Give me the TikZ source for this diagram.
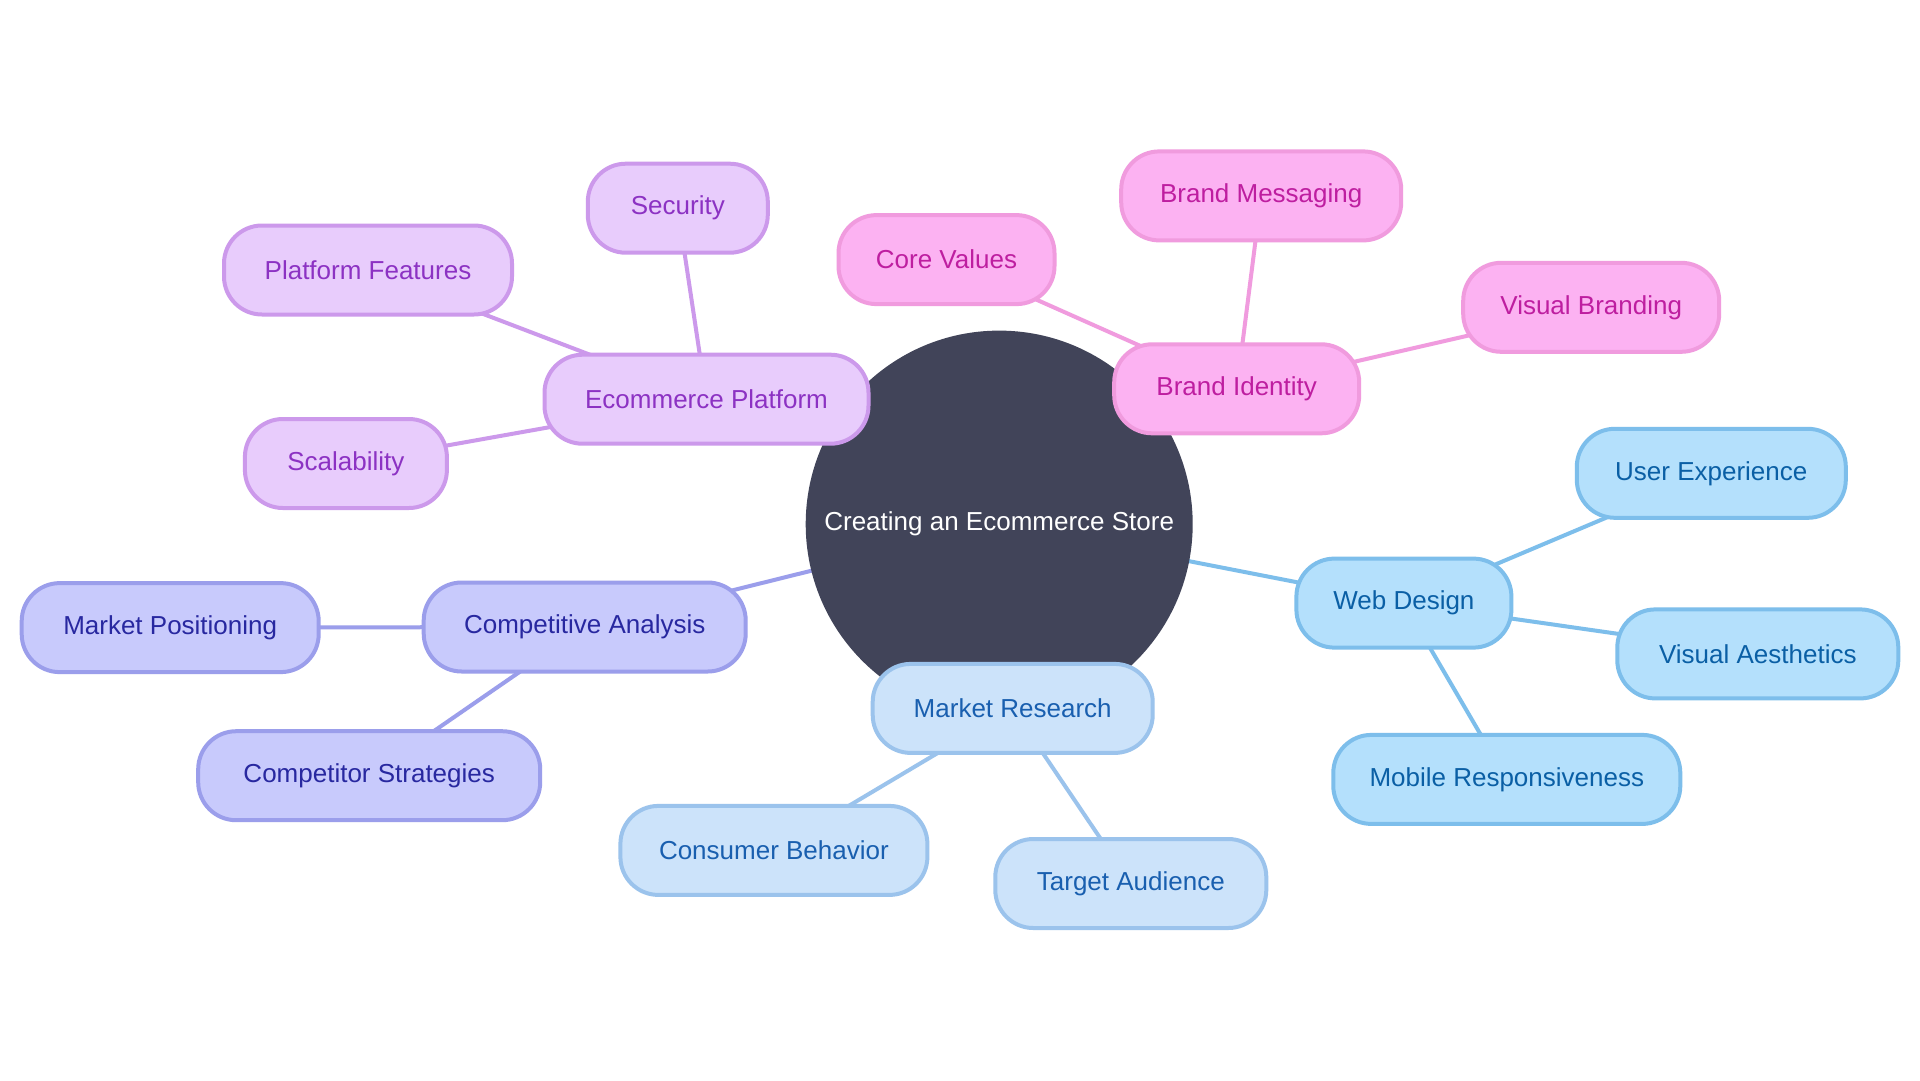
\documentclass[tikz,border=0pt]{standalone}
\usepackage{fontspec}
\setmainfont{Liberation Sans}
\usetikzlibrary{backgrounds}
\definecolor{purpfill}{HTML}{E8CCFC}
\definecolor{purpline}{HTML}{CC99EB}
\definecolor{purptext}{HTML}{8C32C3}
\definecolor{pinkfill}{HTML}{FCB2F2}
\definecolor{pinkline}{HTML}{F09BDE}
\definecolor{pinktext}{HTML}{BE1EA0}
\definecolor{bluefill}{HTML}{B4E0FC}
\definecolor{blueline}{HTML}{7DBEEB}
\definecolor{bluetext}{HTML}{0A5FA5}
\definecolor{palefill}{HTML}{CCE3FA}
\definecolor{paleline}{HTML}{9BC3EC}
\definecolor{paletext}{HTML}{195FAF}
\definecolor{perifill}{HTML}{C8CAFC}
\definecolor{periline}{HTML}{9B9EEB}
\definecolor{peritext}{HTML}{2828A0}
\definecolor{centralfill}{HTML}{414459}
\begin{document}
\begin{tikzpicture}[x=1pt,y=-1pt,
  leaf/.style={rectangle, rounded corners=38pt, minimum height=89pt, line width=4pt, inner sep=0pt, font=\fontsize{26}{31}\selectfont},
  purp/.style={leaf, fill=purpfill, draw=purpline, text=purptext},
  pinkn/.style={leaf, fill=pinkfill, draw=pinkline, text=pinktext},
  bluen/.style={leaf, fill=bluefill, draw=blueline, text=bluetext},
  palen/.style={leaf, fill=palefill, draw=paleline, text=paletext},
  perin/.style={leaf, fill=perifill, draw=periline, text=peritext},
  conn/.style={line width=4pt}
]
\useasboundingbox (0,0) rectangle (1920,1080);
\node[circle, fill=centralfill, minimum size=387pt, inner sep=0pt, text=white, font=\fontsize{26}{31}\selectfont] (c) at (999.2,524.1) {Creating an Ecommerce Store};

\node[purp, minimum width=324pt] (ep) at (706.5,399.2) {Ecommerce Platform};
\node[purp, minimum width=180pt] (sec) at (677.8,208.2) {Security};
\node[purp, minimum width=288pt] (pf) at (368,270) {Platform Features};
\node[purp, minimum width=202pt] (sc) at (345.9,463.5) {Scalability};

\node[pinkn, minimum width=245pt] (bi) at (1236.7,388.8) {Brand Identity};
\node[pinkn, minimum width=216pt] (cv) at (946.5,259.6) {Core Values};
\node[pinkn, minimum width=280pt] (bm) at (1261.2,195.9) {Brand Messaging};
\node[pinkn, minimum width=256pt] (vb) at (1591.2,307.3) {Visual Branding};

\node[bluen, minimum width=215pt] (wd) at (1403.9,603.1) {Web Design};
\node[bluen, minimum width=269pt] (ux) at (1711.3,473.3) {User Experience};
\node[bluen, minimum width=281pt] (va) at (1757.8,653.9) {Visual Aesthetics};
\node[bluen, minimum width=347pt] (mob) at (1506.8,779.4) {Mobile Responsiveness};

\node[palen, minimum width=280pt] (mr) at (1012.7,708.4) {Market Research};
\node[palen, minimum width=307pt] (cb) at (773.9,850.4) {Consumer Behavior};
\node[palen, minimum width=271pt] (ta) at (1130.8,883.5) {Target Audience};

\node[perin, minimum width=322pt] (ca) at (584.7,627) {Competitive Analysis};
\node[perin, minimum width=297pt] (mp) at (170.2,627.6) {Market Positioning};
\node[perin, minimum width=342pt] (cs) at (369.2,775.7) {Competitor Strategies};

\begin{pgfonlayer}{background}
\fill[white] (0,0) rectangle (1920,1080);
\draw[conn, purpline] (ep.center) -- (sec.center);
\draw[conn, purpline] (ep.center) -- (pf.center);
\draw[conn, purpline] (ep.center) -- (sc.center);
\draw[conn, pinkline] (c.center) -- (bi.center);
\draw[conn, pinkline] (bi.center) -- (cv.center);
\draw[conn, pinkline] (bi.center) -- (bm.center);
\draw[conn, pinkline] (bi.center) -- (vb.center);
\draw[conn, blueline] (c.center) -- (wd.center);
\draw[conn, blueline] (wd.center) -- (ux.center);
\draw[conn, blueline] (wd.center) -- (va.center);
\draw[conn, blueline] (wd.center) -- (mob.center);
\draw[conn, paleline] (c.center) -- (mr.center);
\draw[conn, paleline] (mr.center) -- (cb.center);
\draw[conn, paleline] (mr.center) -- (ta.center);
\draw[conn, periline] (c.center) -- (ca.center);
\draw[conn, periline] (ca.center) -- (mp.center);
\draw[conn, periline] (ca.center) -- (cs.center);
\end{pgfonlayer}
\end{tikzpicture}
\end{document}
